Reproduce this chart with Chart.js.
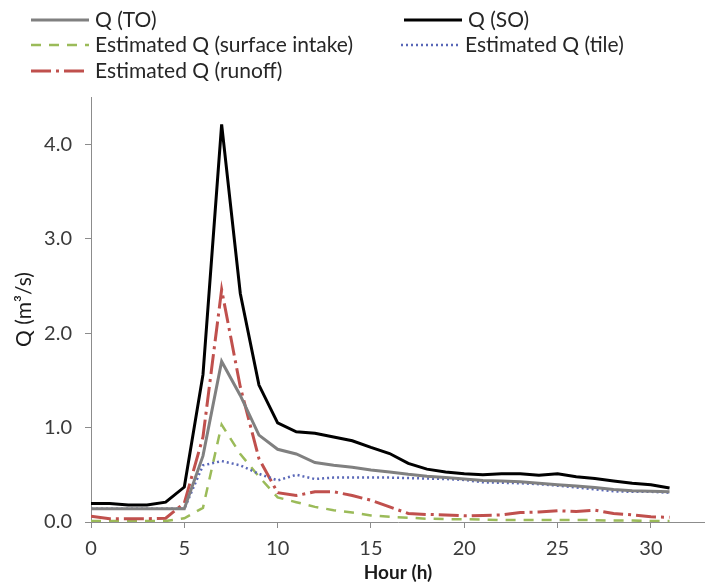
<!DOCTYPE html>
<html>
<head>
<meta charset="utf-8">
<script src="https://cdn.jsdelivr.net/npm/chart.js@4.4.1/dist/chart.umd.min.js"></script>
<style>
  html, body { margin: 0; padding: 0; background: #fff; }
  #wrap { width: 705px; height: 586px; }
</style>
</head>
<body>
<div id="wrap"><canvas id="canvas"></canvas></div>
<script>
let fontFamily = "Lato, 'Open Sans', sans-serif";
let colorText = "#3a3a3a";
let colorAxis = "#8c8c8c";

// hourly discharge, m3/s
let hours = [0, 1, 2, 3, 4, 5, 6, 7, 8, 9, 10, 11, 12, 13, 14, 15, 16, 17, 18, 19, 20, 21, 22, 23, 24, 25, 26, 27, 28, 29, 30, 31];
let qTO = [0.14, 0.14, 0.14, 0.14, 0.14, 0.14, 0.70, 1.70, 1.34, 0.92, 0.77, 0.72, 0.63, 0.60, 0.58, 0.55, 0.53, 0.505, 0.485, 0.47, 0.455, 0.44, 0.435, 0.425, 0.41, 0.395, 0.38, 0.365, 0.345, 0.33, 0.325, 0.32];
let qSO = [0.195, 0.195, 0.18, 0.18, 0.21, 0.37, 1.56, 4.21, 2.42, 1.45, 1.05, 0.955, 0.94, 0.90, 0.86, 0.79, 0.725, 0.62, 0.56, 0.53, 0.51, 0.50, 0.51, 0.51, 0.495, 0.51, 0.48, 0.46, 0.435, 0.41, 0.395, 0.36];
let qSurface = [0.01, 0.01, 0.01, 0.01, 0.01, 0.04, 0.15, 1.03, 0.72, 0.48, 0.26, 0.21, 0.16, 0.125, 0.10, 0.07, 0.055, 0.045, 0.035, 0.03, 0.03, 0.025, 0.02, 0.02, 0.02, 0.02, 0.02, 0.02, 0.015, 0.015, 0.01, 0.01];
let qTile = [0.14, 0.14, 0.14, 0.14, 0.14, 0.14, 0.60, 0.645, 0.60, 0.51, 0.44, 0.50, 0.455, 0.47, 0.47, 0.47, 0.47, 0.465, 0.46, 0.455, 0.445, 0.42, 0.415, 0.41, 0.40, 0.385, 0.365, 0.345, 0.325, 0.32, 0.32, 0.31];
let qRunoff = [0.06, 0.035, 0.035, 0.035, 0.04, 0.20, 0.90, 2.46, 1.43, 0.67, 0.31, 0.28, 0.32, 0.32, 0.28, 0.23, 0.16, 0.09, 0.08, 0.075, 0.065, 0.07, 0.075, 0.10, 0.105, 0.12, 0.11, 0.125, 0.09, 0.075, 0.055, 0.05];

let xTicks = [0, 5, 10, 15, 20, 25, 30];
let yTicks = [0, 1, 2, 3, 4];

let toPoints = (values) => values.map((v, i) => ({x: hours[i], y: v}));

// legend drawn in two fixed columns, like the spreadsheet legend
let legendSlots = [
    {x: 31, y: 20, w: 58},
    {x: 404, y: 20, w: 58},
    {x: 31, y: 45, w: 58},
    {x: 401, y: 45, w: 58},
    {x: 31, y: 71, w: 58}
];

let columnLegend = {
    id: "columnLegend",
    afterDraw(chart) {
        let ctx = chart.ctx;
        ctx.save();
        ctx.font = `21px ${fontFamily}`;
        ctx.fillStyle = "#262626";
        ctx.textBaseline = "middle";
        chart.data.datasets.forEach((ds, i) => {
            let slot = legendSlots[i];
            ctx.beginPath();
            ctx.strokeStyle = ds.borderColor;
            ctx.lineWidth = ds.borderWidth;
            ctx.setLineDash(ds.borderDash || []);
            ctx.moveTo(slot.x, slot.y);
            ctx.lineTo(slot.x + slot.w, slot.y);
            ctx.stroke();
            ctx.setLineDash([]);
            ctx.fillText(ds.label, slot.x + slot.w + 6, slot.y);
        });
        ctx.restore();
    }
};

new Chart(document.getElementById("canvas").getContext("2d"), {
    type: "line",
    data: {
        datasets: [
            {label: "Q (TO)", data: toPoints(qTO), borderColor: "#808080", borderWidth: 3, order: 1},
            {label: "Q (SO)", data: toPoints(qSO), borderColor: "#000000", borderWidth: 3, order: 0},
            {label: "Estimated Q (surface intake)", data: toPoints(qSurface), borderColor: "#9bbb59", borderWidth: 2.5, borderDash: [10, 8], order: 4},
            {label: "Estimated Q (tile)", data: toPoints(qTile), borderColor: "#5a68b8", borderWidth: 2.5, borderDash: [2, 3], order: 2},
            {label: "Estimated Q (runoff)", data: toPoints(qRunoff), borderColor: "#c0504d", borderWidth: 3, borderDash: [20, 5, 3, 5], order: 3}
        ]
    },
    options: {
        responsive: true,
        maintainAspectRatio: false,
        animation: false,
        elements: {
            point: {radius: 0},
            line: {tension: 0, fill: false}
        },
        layout: {
            padding: {top: 97, left: 0, right: 0, bottom: 0}
        },
        plugins: {
            legend: {display: false},
            tooltip: {enabled: false}
        },
        scales: {
            x: {
                type: "linear",
                min: 0,
                max: 32.9,
                afterBuildTicks: (scale) => { scale.ticks = xTicks.map((v) => ({value: v})); },
                afterFit: (scale) => { scale.height = 64; },
                grid: {drawOnChartArea: false, color: colorAxis, tickLength: 6},
                border: {color: colorAxis, width: 1},
                ticks: {
                    color: colorText,
                    padding: 9,
                    maxRotation: 0,
                    font: {family: fontFamily, size: 20}
                },
                title: {
                    display: true,
                    text: "Hour (h)",
                    color: "#1a1a1a",
                    padding: {top: 0, bottom: 2},
                    font: {family: fontFamily, size: 19, weight: "bold"}
                }
            },
            y: {
                min: 0,
                max: 4.5,
                afterBuildTicks: (scale) => { scale.ticks = yTicks.map((v) => ({value: v})); },
                afterFit: (scale) => { scale.width = 91; },
                grid: {drawOnChartArea: false, color: colorAxis, tickLength: 6},
                border: {color: colorAxis, width: 1},
                ticks: {
                    color: colorText,
                    padding: 13,
                    font: {family: fontFamily, size: 20},
                    callback: (v) => v.toFixed(1)
                },
                title: {
                    display: true,
                    text: "Q (m³/s)",
                    color: "#1a1a1a",
                    padding: {top: 12, bottom: 0},
                    font: {family: fontFamily, size: 21}
                }
            }
        }
    },
    plugins: [columnLegend]
});
</script>
</body>
</html>
